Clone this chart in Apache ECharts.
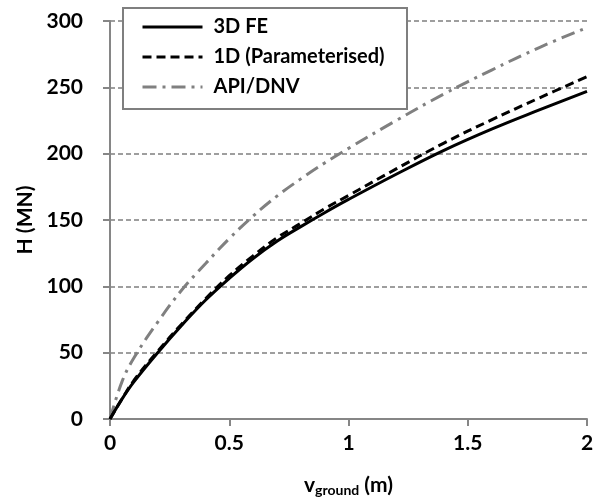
<!DOCTYPE html>
<html>
<head>
<meta charset="utf-8">
<script src="https://cdn.jsdelivr.net/npm/echarts@6/dist/echarts.min.js"></script>
<style>html,body{margin:0;padding:0;background:#fff}#c{width:605px;height:502px}</style>
</head>
<body>
<div id="c"></div>
<script>
var vGround = [0, 0.05, 0.1, 0.2, 0.3, 0.4, 0.5, 0.6, 0.7, 0.8, 0.9, 1.0, 1.2, 1.4, 1.6, 1.8, 2.0];
var fe3D    = [0, 15, 28, 50, 70.5, 89.5, 106, 121, 134, 145, 155.5, 165.5, 184.5, 202.5, 218.5, 233, 247];
var param1D = [0, 15, 29, 51, 71.5, 90.5, 108, 123, 136.5, 147.5, 158.5, 168.5, 188.5, 208, 225.5, 242, 258];
var apiDnv  = [0, 28, 46, 73, 97, 117, 136, 153, 168, 181, 193, 204, 225, 245, 263, 280, 295];
var seriesNames = ['3D FE', '1D (Parameterised)', 'API/DNV'];
var yTicks = [0, 50, 100, 150, 200, 250, 300];
var xTicks = [0, 0.5, 1, 1.5, 2];

function pairs(ys){ return vGround.map(function(x,i){ return [x, ys[i]]; }); }
var FONT = 'Lato';
var chart = echarts.init(document.getElementById('c'));
chart.setOption({
  animation: false,
  backgroundColor: '#fff',
  grid: {left: 110, right: 18, top: 21, bottom: 82},
  graphic: [{
    type: 'rect', z: 3, silent: true,
    shape: {x: 123, y: 8, width: 284, height: 101},
    style: {fill: '#fff', stroke: '#7f7f7f', lineWidth: 2}
  }],
  legend: {
    left: 141, top: 17, orient: 'vertical', z: 6,
    padding: 0,
    itemWidth: 60, itemHeight: 14, itemGap: 10,
    itemStyle: {opacity: 0},
    lineStyle: {width: 3},
    textStyle: {fontFamily: FONT, fontWeight: 'bold', fontSize: 20, color: '#000', padding: [0, 0, 0, 6]},
    data: seriesNames
  },
  xAxis: {
    type: 'value', min: xTicks[0], max: xTicks[xTicks.length-1], interval: 0.5,
    axisLine: {lineStyle: {color: '#868686', width: 2}},
    axisTick: {show: true, length: 7, lineStyle: {color: '#868686', width: 2}},
    axisLabel: {margin: 14, fontFamily: FONT, fontWeight: 'bold', fontSize: 21, color: '#000'},
    splitLine: {show: false},
    name: '{v|v}{s|ground}{v| (m)}', nameLocation: 'middle', nameGap: 55,
    nameTextStyle: {rich: {
      v: {fontFamily: FONT, fontWeight: 'bold', fontSize: 21, color: '#000'},
      s: {fontFamily: FONT, fontWeight: 'bold', fontSize: 14, color: '#000', verticalAlign: 'bottom', padding: [9,0,0,0]}
    }}
  },
  yAxis: {
    type: 'value', min: yTicks[0], max: yTicks[yTicks.length-1], interval: 50,
    axisLine: {show: true, lineStyle: {color: '#868686', width: 2}},
    axisTick: {show: true, length: 7, lineStyle: {color: '#868686', width: 2}},
    axisLabel: {margin: 27, fontFamily: FONT, fontWeight: 'bold', fontSize: 21, color: '#000'},
    splitLine: {show: true, lineStyle: {color: '#7f7f7f', width: 1.5, type: [5, 3]}},
    name: 'H (MN)', nameLocation: 'middle', nameGap: 69,
    nameTextStyle: {fontFamily: FONT, fontWeight: 'bold', fontSize: 21, color: '#000'}
  },
  series: [
    {name: seriesNames[0], type: 'line', data: pairs(fe3D), smooth: 0.4, symbol: 'none',
     lineStyle: {color: '#000', width: 3, type: 'solid'}, itemStyle: {color: '#000'}, z: 2.3},
    {name: seriesNames[1], type: 'line', data: pairs(param1D), smooth: 0.4, symbol: 'none',
     lineStyle: {color: '#000', width: 3, type: [9, 5]}, itemStyle: {color: '#000'}, z: 2.2},
    {name: seriesNames[2], type: 'line', data: pairs(apiDnv), smooth: 0.4, symbol: 'none',
     lineStyle: {color: '#808080', width: 3, type: [14, 6, 3, 6]}, itemStyle: {color: '#808080'}, z: 2.1}
  ]
});
</script>
</body>
</html>
